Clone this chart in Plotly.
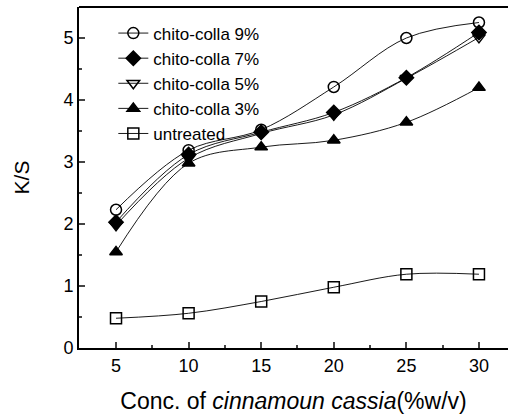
import plotly.graph_objects as go

conc = [5, 10, 15, 20, 25, 30]
ks_9 = [2.23, 3.19, 3.52, 4.21, 5.00, 5.25]
ks_7 = [2.03, 3.12, 3.48, 3.80, 4.36, 5.09]
ks_5 = [1.98, 3.06, 3.46, 3.76, 4.35, 5.01]
ks_3 = [1.55, 2.98, 3.24, 3.35, 3.64, 4.20]
ks_untreated = [0.48, 0.56, 0.75, 0.98, 1.19, 1.19]

series = [
    ("chito-colla 9%", ks_9, "circle-open"),
    ("chito-colla 7%", ks_7, "diamond"),
    ("chito-colla 5%", ks_5, "triangle-down-open"),
    ("chito-colla 3%", ks_3, "triangle-up"),
    ("untreated", ks_untreated, "square-open"),
]

font = "Arial, Liberation Sans, sans-serif"

fig = go.Figure()
for name, vals, sym in series:
    fig.add_trace(
        go.Scatter(
            x=conc,
            y=vals,
            name=name,
            mode="lines+markers",
            line={"color": "black", "width": 0.9, "shape": "spline", "smoothing": 1},
            marker={"symbol": sym, "size": 11, "color": "black", "line": {"color": "black", "width": 1.5}},
        )
    )

fig.update_layout(
    width=508,
    height=414,
    margin={"l": 79, "r": 0, "t": 7, "b": 66},
    paper_bgcolor="white",
    plot_bgcolor="white",
    font={"family": font, "color": "black", "size": 16},
    showlegend=True,
    legend={
        "x": 0.08,
        "y": 0.975,
        "xanchor": "left",
        "yanchor": "top",
        "bgcolor": "rgba(0,0,0,0)",
        "font": {"size": 17},
        "tracegroupgap": 0,
    },
)
fig.update_xaxes(
    range=[2.45, 32.0],
    tickvals=[5, 10, 15, 20, 25, 30],
    ticks="inside",
    ticklen=6,
    tickwidth=1.5,
    minor={"dtick": 2.5, "ticks": "inside", "ticklen": 3, "tick0": 2.5},
    showline=True,
    linewidth=2,
    linecolor="black",
    showgrid=False,
    zeroline=False,
    automargin=False,
    tickfont={"size": 18},
    title={
        "text": "Conc. of <i>cinnamoun cassia</i>(%w/v)",
        "font": {"size": 23},
        "standoff": 18,
    },
)
fig.update_yaxes(
    range=[0, 5.5],
    dtick=1,
    ticks="inside",
    ticklen=6,
    tickwidth=1.5,
    minor={"dtick": 0.5, "ticks": "inside", "ticklen": 3},
    showline=True,
    linewidth=2,
    linecolor="black",
    showgrid=False,
    zeroline=False,
    automargin=False,
    tickfont={"size": 18},
    title={"text": "K/S", "font": {"size": 21}, "standoff": 28},
)
fig.add_shape(type="line", xref="paper", yref="paper", x0=0, x1=1, y0=1, y1=1,
              line={"color": "black", "width": 2})

# page body has a default 8px margin; drop it so the figure sits at the corner
fig.write_html(
    "out.html",
    config={"displayModeBar": False},
    post_script="document.body.style.margin='0';",
)
